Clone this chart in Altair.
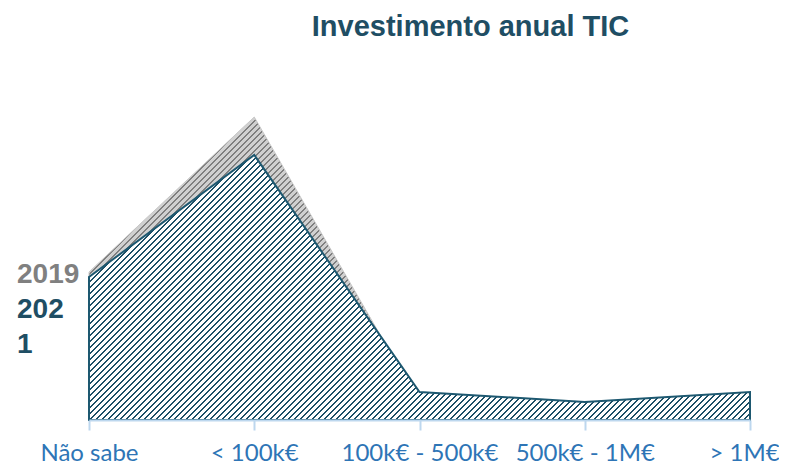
import altair as alt
import pandas as pd

categories = ["Não sabe", "< 100k€", "100k€ - 500k€", "500k€ - 1M€", "> 1M€"]
values_2019 = [29.6, 60.6, 3.4, 2.4, 4.0]
values_2021 = [28.6, 53.0, 5.6, 3.6, 5.6]
series_labels = ["2019", "202\n1"]

rows = []
for c, v in zip(categories, values_2019):
    rows.append({"ano": "2019", "categoria": c, "valor": v})
for c, v in zip(categories, values_2021):
    rows.append({"ano": "2021", "categoria": c, "valor": v})
df = pd.DataFrame(rows)

W, H = 661, 320
YMAX = 64.0
PAD = {"left": 81, "top": 92, "right": 29, "bottom": 47}

TEAL = "#1f4e64"
OUTLINE = "#1d5870"
GRAY_TXT = "#808080"


def stripes(max_val, dark, light, period=6, d0=0.5, d1=2.5):
    h = max_val / YMAX * H
    n = int((W + h) // period) + 2
    T = period * n
    k = T / (W * (1 + (h / W) ** 2))
    stops = [{"offset": 0, "color": light}]
    for i in range(n):
        a = (period * i + d0) / T
        b = (period * i + d1) / T
        stops += [
            {"offset": round(a, 7), "color": light},
            {"offset": round(a, 7), "color": dark},
            {"offset": round(b, 7), "color": dark},
            {"offset": round(b, 7), "color": light},
        ]
    stops.append({"offset": 1, "color": light})
    return {"gradient": "linear", "x1": 0, "y1": 0, "x2": k, "y2": k * h / W, "stops": stops}


x_enc = alt.X(
    "categoria:N",
    sort=categories,
    scale=alt.Scale(type="point", padding=0),
    title=None,
    axis=alt.Axis(
        labelAngle=0,
        labelFont="Lato",
        labelFontSize=24,
        labelColor="#2e75b6",
        labelPadding=11,
        labelFlush=False,
        labelOffset={"condition": {"test": "datum.value === '> 1M€'", "value": -6}, "value": 0},
        domainColor="#bdd7ee",
        domainWidth=2,
        tickColor="#bdd7ee",
        tickWidth=2,
        tickSize=10,
        grid=False,
        zindex=1,
    ),
)
y_enc = alt.Y("valor:Q", scale=alt.Scale(domain=[0, YMAX], nice=False, zero=True), axis=None)

base = alt.Chart(df)

area19 = base.transform_filter(alt.datum.ano == "2019").mark_area(
    fill=stripes(max(values_2019), "#7f7f7f", "#d0d0d0"),
    stroke="#c8c8c8",
    strokeWidth=1,
    opacity=1,
).encode(x=x_enc, y=y_enc)

area21 = base.transform_filter(alt.datum.ano == "2021").mark_area(
    fill=stripes(max(values_2021), "#1c4f66", "#ffffff"),
    stroke=OUTLINE,
    strokeWidth=2,
    opacity=1,
).encode(x=x_enc, y=y_enc)

lab_df = pd.DataFrame(
    {
        "categoria": [categories[0], categories[0]],
        "valor": [values_2019[0], values_2021[0]],
        "texto": series_labels,
    }
)

lab19 = alt.Chart(lab_df.iloc[[0]]).mark_text(
    align="left", baseline="alphabetic", dx=-72, dy=11,
    font="Liberation Sans", fontWeight="bold", fontSize=28, color=GRAY_TXT,
).encode(x=alt.X("categoria:N", sort=categories), y="valor:Q", text="texto:N")

lab21 = alt.Chart(lab_df.iloc[[1]]).mark_text(
    align="left", baseline="alphabetic", dx=-72, dy=41, lineBreak="\n", lineHeight=35,
    font="Liberation Sans", fontWeight="bold", fontSize=28, color=TEAL,
).encode(x=alt.X("categoria:N", sort=categories), y="valor:Q", text="texto:N")

chart = (
    alt.layer(area19, area21, lab19, lab21)
    .properties(
        width=W,
        height=H,
        padding=PAD,
        autosize=alt.AutoSizeParams(type="none"),
        title=alt.TitleParams(
            "Investimento anual TIC",
            font="Liberation Sans",
            fontSize=29,
            fontWeight="bold",
            color=TEAL,
            anchor="middle",
            frame="group",
            offset=58,
            dx=51,
        ),
    )
    .configure_view(stroke=None)
)

chart.save("out.html", embed_options={"renderer": "svg", "actions": False})
